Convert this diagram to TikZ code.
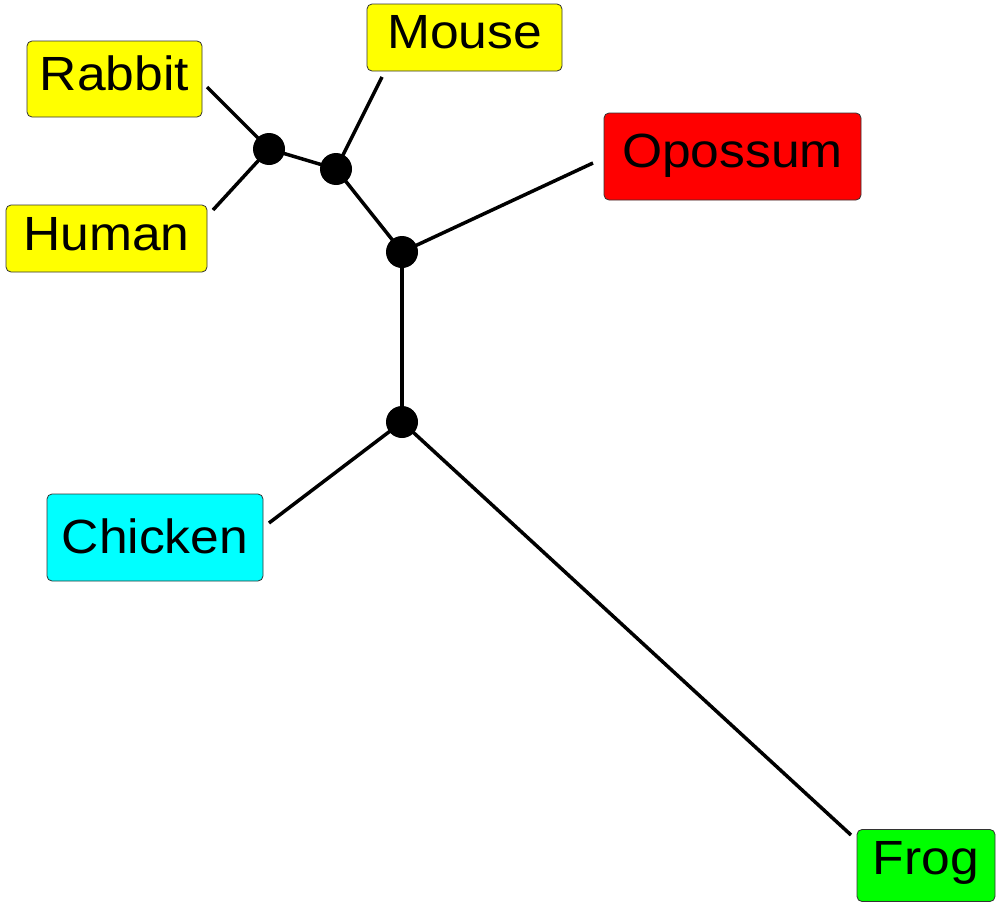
\documentclass[tikz,border=0pt]{standalone}
\usepackage{fontspec}
\setmainfont[FakeStretch=1.075]{Liberation Sans}
\begin{document}
\begin{tikzpicture}[x=1pt,y=-1pt,
  taxon/.style={draw=black!80, line width=0.8pt, rounded corners=5pt, inner sep=0pt,
    font=\fontsize{48}{48}\selectfont, text height=34.4pt},
  branch/.style={line width=3.5pt, black},
  inner/.style={circle, fill=black, inner sep=0pt, minimum size=32pt}]
\useasboundingbox (0,0) rectangle (996,902);
\node[taxon, text depth=11pt, fill={rgb,255:red,255;green,255;blue,0}, minimum width=175pt, minimum height=76pt] (rabbit) at (114.5,79) {Rabbit};
\node[taxon, text depth=12pt, fill={rgb,255:red,255;green,255;blue,0}, minimum width=195pt, minimum height=67pt] (mouse) at (464.5,37.5) {Mouse};
\node[taxon, text depth=13pt, fill={rgb,255:red,255;green,0;blue,0}, minimum width=257pt, minimum height=87pt] (opossum) at (732.5,156.5) {Opossum};
\node[taxon, text depth=11pt, fill={rgb,255:red,255;green,255;blue,0}, minimum width=201pt, minimum height=67pt] (human) at (106.5,238.5) {Human};
\node[taxon, text depth=3pt, fill={rgb,255:red,0;green,255;blue,255}, minimum width=216pt, minimum height=87pt] (chicken) at (155,537.5) {Chicken};
\node[taxon, text depth=17pt, fill={rgb,255:red,0;green,255;blue,0}, minimum width=138pt, minimum height=72pt] (frog) at (926,865.5) {Frog};
\coordinate (rabbitE) at (207,87);
\coordinate (humanE) at (213,210);
\coordinate (mouseE) at (382,77);
\coordinate (opossumE) at (593,163);
\coordinate (chickenE) at (269,523);
\coordinate (frogE) at (851,835);
\node[inner] (n1) at (269,149) {};
\node[inner] (n2) at (336,169) {};
\node[inner] (n3) at (402,252) {};
\node[inner] (n4) at (402,422) {};
\draw[branch] (rabbitE) -- (n1.center);
\draw[branch] (humanE) -- (n1.center);
\draw[branch] (n1.center) -- (n2.center);
\draw[branch] (mouseE) -- (n2.center);
\draw[branch] (n2.center) -- (n3.center);
\draw[branch] (opossumE) -- (n3.center);
\draw[branch] (n3.center) -- (n4.center);
\draw[branch] (chickenE) -- (n4.center);
\draw[branch] (frogE) -- (n4.center);
\end{tikzpicture}
\end{document}
